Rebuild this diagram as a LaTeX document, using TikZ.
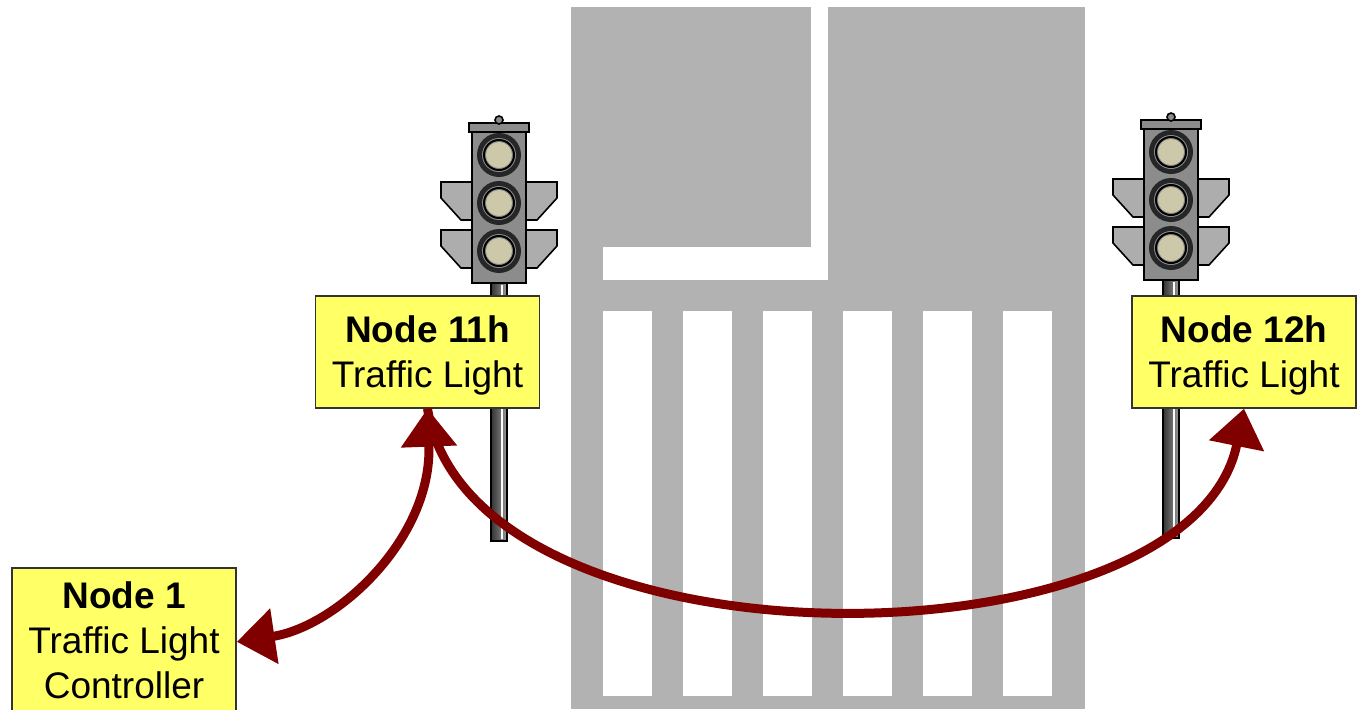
\documentclass[tikz,border=0pt]{standalone}
\usepackage{fontspec}
\setmainfont{Liberation Sans}
\usetikzlibrary{arrows.meta}
\definecolor{roadgray}{RGB}{178,178,178}
\definecolor{signyellow}{RGB}{255,255,102}
\definecolor{linkred}{RGB}{128,0,0}
\definecolor{lampbeige}{RGB}{205,200,170}

\begin{document}
\begin{tikzpicture}[
        font=\fontsize{18.5}{22.5}\selectfont,
        >={Triangle[length=19pt, width=27pt]},
        road/.style    ={fill=roadgray},
        paint/.style   ={fill=white},
        sign/.style    ={draw=black!80, line width=0.8pt, fill=signyellow, anchor=north,
                         align=center, minimum width=112pt, inner sep=0pt},
        link/.style    ={line width=4.5pt, draw=linkred},
        housing/.style ={fill=black!45, draw=black, line width=0.8pt},
        visor/.style   ={fill=black!32, draw=black, line width=0.8pt},
        % one signal head on its pole; origin = centre of the middle lamp
        tlight/.pic={
            \fill[left color=black!80, right color=black!40] (-8,80) rectangle (8,338);
            \draw[white, line width=0.6pt] (3,82) -- (3,336);
            \draw[black, line width=0.8pt] (-8,80) rectangle (8,338);
            \foreach \dy in {0,48} {
                \filldraw[visor] (-27,-21+\dy) -- (-58,-21+\dy) -- (-58,-5+\dy)
                    -- (-38,17+\dy) -- (-27,17+\dy) -- cycle;
                \filldraw[visor] (27,-21+\dy) -- (58,-21+\dy) -- (58,-5+\dy)
                    -- (38,17+\dy) -- (27,17+\dy) -- cycle;
            }
            \filldraw[housing] (-27,-71) rectangle (27,80);
            \filldraw[housing] (-30,-80) rectangle (30,-71);
            \filldraw[housing] (0,-83) circle (4);
            \foreach \dy in {-48,0,48} {
                \fill[black!85] (0,\dy) circle (22);
                \fill[black!45] (0,\dy) circle (17);
                \draw[black, line width=1pt] (0,\dy) circle (15);
                \fill[lampbeige] (0,\dy) circle (13);
            }
        },
        x=0.5pt, y=-0.5pt
    ]

    \useasboundingbox (0,0) rectangle (1361,709);
    \clip (0,0) rectangle (1361,709);

    % road with the stop line and the zebra crossing
    \fill[road] (571,7) rectangle (1085,709);
    \fill[paint] (811,0) rectangle (828,280);
    \fill[paint] (603,247) rectangle (828,280);
    \foreach \i in {0,...,5}
        \fill[paint] ({603+80*\i},311) rectangle ({652+80*\i},696);

    \pic at (499,203) {tlight};
    \pic at (1171,200) {tlight};

    % text height is taken to the baseline of the last line
    \node[sign, text height=46pt, text depth=10pt] (n11h) at (427.5,295)
          {\textbf{Node 11h}\\Traffic Light};
    \node[sign, text height=46pt, text depth=10pt] (n12h) at (1244,295)
          {\textbf{Node 12h}\\Traffic Light};
    \node[sign, text height=65.5pt, text depth=8.5pt] (n1) at (124,567)
          {\textbf{Node 1}\\Traffic Light\\Controller};

    \draw[link, ->] (n11h.south) .. controls +(43,270) and +(-53,264) .. (n12h.south);
    \draw[link, <->] (n1.east) .. controls +(100,-15) and +(5,130) .. (n11h.south);

\end{tikzpicture}
\end{document}
